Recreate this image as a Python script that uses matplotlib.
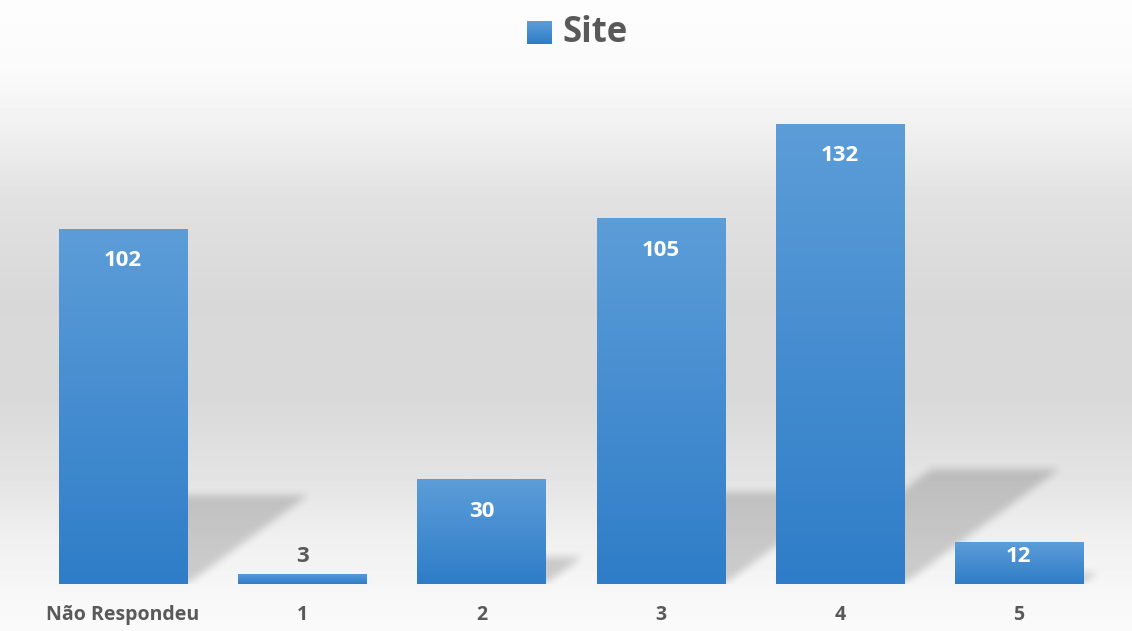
import numpy as np
import matplotlib
matplotlib.use('Agg')
import matplotlib.pyplot as plt
from matplotlib.patches import Rectangle
from matplotlib.path import Path

categories = ['Não Respondeu', '1', '2', '3', '4', '5']
values = [102, 3, 30, 105, 132, 12]
series_name = 'Site'

W, H = 1132, 631
plt.rcParams['font.family'] = ['Open Sans', 'DejaVu Sans']
plt.rcParams['font.weight'] = 'bold'
GRAY = '#595959'

fig = plt.figure(figsize=(W / 100, H / 100), dpi=100)

# background gradient: white top, gray middle, white bottom
bg = fig.add_axes([0, 0, 1, 1], zorder=-5)
ys = np.array([0, 70, 120, 200, 300, 400, 480, 540, 600, 631])
gs = np.array([253, 250, 242, 225, 216, 217, 228, 240, 248, 250]) / 255
col = np.interp(np.arange(H), ys, gs)
bg.imshow(np.repeat(col[:, None], 2, axis=1), cmap='gray', vmin=0, vmax=1,
          aspect='auto', extent=(0, 1, 0, 1))
bg.set_xlim(0, 1)
bg.set_ylim(0, 1)
bg.axis('off')

top_c = np.array([92, 157, 216]) / 255
bot_c = np.array([47, 125, 200]) / 255


def gradient(n=100):
    t = np.linspace(0, 1, n)[:, None]
    return (bot_c[None, :] * (1 - t) + top_c[None, :] * t)[:, None, :]


# legend square with the same gradient, drawn on the background axes
sq = Rectangle((527 / W, 1 - 44 / H), 25 / W, 23 / H, color='none')
bg.add_patch(sq)
lim = bg.imshow(gradient(), origin='lower', aspect='auto', zorder=2,
                extent=(527 / W, 552 / W, 1 - 44 / H, 1 - 21 / H))
lim.set_clip_path(sq)

ymax = 140
px_per_unit = 3.485
ax = fig.add_axes([33.5 / W, 47 / H, 1075 / W, ymax * px_per_unit / H])
ax.set_xlim(-0.5, len(values) - 0.5)
ax.set_ylim(0, ymax)
ax.patch.set_alpha(0)
for s in ax.spines.values():
    s.set_visible(False)

xs = np.arange(len(values))
width = 0.715

# perspective shadows, rasterised then blurred
nx, ny = 1075, int(ymax * px_per_unit)
gx = np.linspace(-0.5, len(values) - 0.5, nx)
gy = np.linspace(0, ymax, ny)
XX, YY = np.meshgrid(gx, gy)
pts = np.column_stack([XX.ravel(), YY.ravel()])
mask = np.zeros(XX.size)
for x, v in zip(xs, values):
    xl, xr = x - width / 2, x + width / 2
    sh = 0.25 * v
    dx = 0.0066 * v
    poly = Path([(xl, 0), (xr, 0), (xr + dx, sh), (xl + dx, sh), (xl, 0)])
    mask = np.maximum(mask, poly.contains_points(pts).astype(float))
mask = mask.reshape(ny, nx)
k = np.ones(9) / 9
for _ in range(2):
    mask = np.apply_along_axis(lambda r: np.convolve(r, k, mode='same'), 1, mask)
    mask = np.apply_along_axis(lambda c: np.convolve(c, k, mode='same'), 0, mask)
shadow = np.zeros((ny, nx, 4))
shadow[..., 3] = mask * 0.17
ax.imshow(shadow, origin='lower', aspect='auto', zorder=1,
          extent=(-0.5, len(values) - 0.5, 0, ymax))

# bars with vertical gradient
bars = ax.bar(xs, values, width=width, color='none', zorder=2)
for b, v in zip(bars, values):
    im = ax.imshow(gradient(), origin='lower', aspect='auto', zorder=3,
                   extent=(b.get_x(), b.get_x() + b.get_width(), 0, v))
    im.set_clip_path(b)

# data labels
for x, v in zip(xs, values):
    hpx = v * px_per_unit
    if hpx > 60:
        off, c = -32, 'white'
    elif hpx > 20:
        off, c = -14, 'white'
    else:
        off, c = 17, GRAY
    ax.annotate(str(v), (x, v), xytext=(0, off), textcoords='offset pixels',
                ha='center', va='center', color=c, fontsize=16,
                fontweight='bold', zorder=5)

ax.set_yticks([])
ax.set_xticks(xs)
ax.set_xticklabels(categories, fontsize=14, fontweight='bold', color=GRAY)
ax.tick_params(axis='x', length=0, pad=15)

fig.text(562 / W, 1 - 33 / H, series_name, ha='left', va='center',
         fontsize=25, fontweight='bold', color=GRAY)

fig.savefig('out.png', dpi=100)
